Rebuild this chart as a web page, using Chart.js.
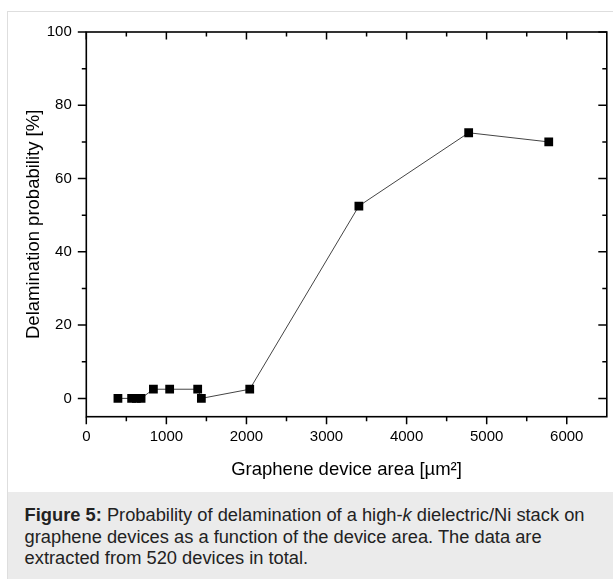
<!DOCTYPE html>
<html><head><meta charset="utf-8">
<script src="https://cdn.jsdelivr.net/npm/chart.js@4.4.1/dist/chart.umd.min.js"></script>
<style>
html,body{margin:0;padding:0;background:#fff;overflow:hidden;width:613px;height:579px}
#frame{position:absolute;left:7px;top:11px;width:700px;height:700px;border:1px solid #dedede;box-sizing:border-box}
#cap{position:absolute;left:8px;top:492px;width:700px;height:200px;background:#ebebeb}
#capText{position:absolute;left:16.6px;top:12.4px;font-family:"Liberation Sans",Arial,sans-serif;font-size:18.3px;line-height:21.3px;color:#222;white-space:nowrap}
#wrap{position:absolute;left:0;top:0;width:613px;height:491px}
</style></head>
<body>
<div id="frame"></div>
<div id="cap"><div id="capText"><b>Figure 5:</b> Probability of delamination of a high-<i>k</i> dielectric/Ni stack on<br>graphene devices as a function of the device area. The data are<br>extracted from 520 devices in total.</div></div>
<div id="wrap"><canvas id="c" width="613" height="491"></canvas></div>
<script>
// ---- data ----
const deviceArea = [395, 566, 625, 684, 838, 1041, 1391, 1437, 2041, 3404, 4775, 5775];
const delamProb  = [0, 0, 0, 0, 2.5, 2.5, 2.5, 0, 2.5, 52.5, 72.5, 70];
const xTickLabels = [0, 1000, 2000, 3000, 4000, 5000, 6000];
const xMinorTicks = [500, 1500, 2500, 3500, 4500, 5500];
const yTickLabels = [0, 20, 40, 60, 80, 100];
const yMinorTicks = [10, 30, 50, 70, 90];

const FONT = '"Liberation Sans", Arial, sans-serif';

const frameTicks = {
  id: 'frameTicks',
  afterDraw(chart) {
    const {ctx, chartArea: a, scales: {x, y}} = chart;
    ctx.save();
    ctx.strokeStyle = '#000';
    ctx.lineWidth = 1.6;
    ctx.strokeRect(a.left, a.top, a.right - a.left, a.bottom - a.top);
    ctx.lineWidth = 1.5;
    const MAJ = 7.5, MIN = 4.5;
    const xt = xTickLabels.map(v => [v, MAJ]).concat(xMinorTicks.map(v => [v, MIN]));
    xt.forEach(([v, len]) => {
      const px = x.getPixelForValue(v);
      ctx.beginPath();
      ctx.moveTo(px, a.bottom); ctx.lineTo(px, a.bottom + len);
      ctx.moveTo(px, a.top); ctx.lineTo(px, a.top + len);
      ctx.stroke();
    });
    const yt = yTickLabels.map(v => [v, MAJ + 1]).concat(yMinorTicks.map(v => [v, MIN]));
    yt.forEach(([v, len]) => {
      const py = y.getPixelForValue(v);
      ctx.beginPath();
      ctx.moveTo(a.left - len, py); ctx.lineTo(a.left, py);
      ctx.moveTo(a.right - len, py); ctx.lineTo(a.right, py);
      ctx.stroke();
    });
    ctx.restore();
  }
};

new Chart(document.getElementById('c'), {
  type: 'line',
  data: {
    datasets: [{
      data: deviceArea.map((v, i) => ({x: v, y: delamProb[i]})),
      borderColor: '#444',
      borderWidth: 1,
      pointStyle: 'rect',
      pointRadius: 6.2,
      pointBackgroundColor: '#000',
      pointBorderColor: '#000',
      pointBorderWidth: 0,
      tension: 0
    }]
  },
  options: {
    responsive: false,
    animation: false,
    devicePixelRatio: 1,
    layout: {padding: {left: 0, top: 32, right: 4.5, bottom: 0}},
    plugins: {legend: {display: false}, tooltip: {enabled: false}},
    scales: {
      x: {
        type: 'linear', min: 0, max: 6500, position: 'bottom',
        afterBuildTicks: s => { s.ticks = xTickLabels.map(v => ({value: v})); },
        afterFit: s => { s.height = 74.3; },
        grid: {display: false, drawTicks: false},
        border: {display: false},
        ticks: {font: {family: FONT, size: 15}, color: '#000', padding: 11.5, maxRotation: 0, callback: v => String(v)},
        title: {display: true, text: 'Graphene device area [µm²]', font: {family: FONT, size: 18.5}, color: '#000', padding: {top: 0, bottom: 9.6}}
      },
      y: {
        type: 'linear', min: -5, max: 100,
        afterBuildTicks: s => { s.ticks = yTickLabels.map(v => ({value: v})); },
        afterFit: s => { s.width = 86.3; },
        grid: {display: false, drawTicks: false},
        border: {display: false},
        ticks: {font: {family: FONT, size: 15}, color: '#000', padding: 14.5, callback: v => String(v)},
        title: {display: true, text: 'Delamination probability [%]', font: {family: FONT, size: 18.5}, color: '#000', padding: {top: 22.4, bottom: 0}}
      }
    }
  },
  plugins: [frameTicks]
});
</script>
</body></html>
